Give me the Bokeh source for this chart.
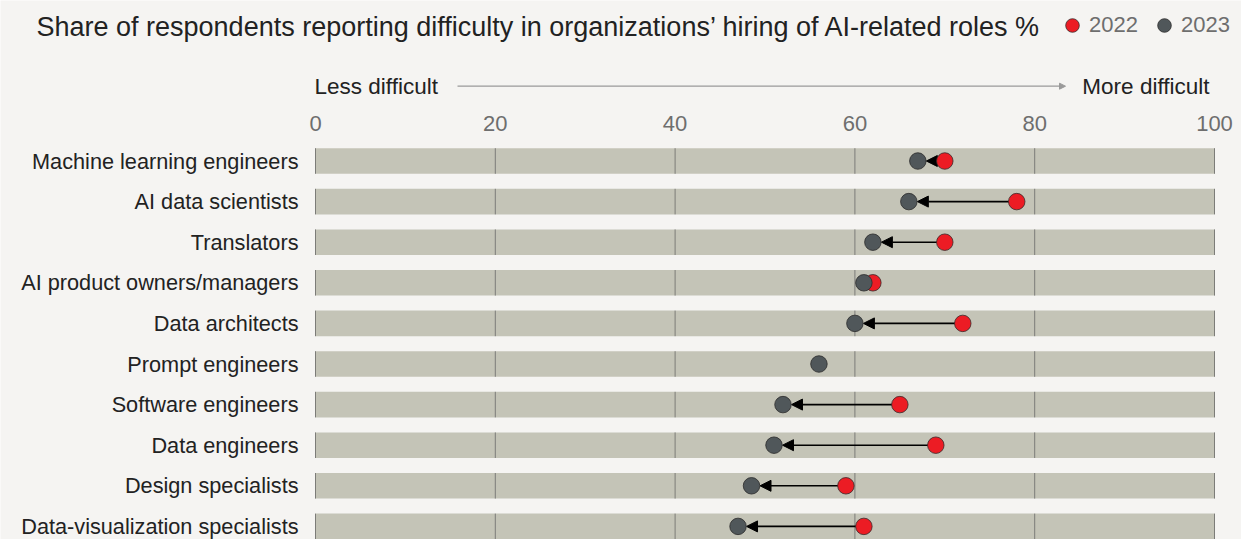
import math
from bokeh.plotting import figure
from bokeh.models import (ColumnDataSource, Range1d, Label, Arrow, NormalHead,
                          Legend, LegendItem)
from bokeh.core.properties import value
from bokeh.embed import file_html
from bokeh.resources import INLINE

categories = [
    "Machine learning engineers",
    "AI data scientists",
    "Translators",
    "AI product owners/managers",
    "Data architects",
    "Prompt engineers",
    "Software engineers",
    "Data engineers",
    "Design specialists",
    "Data-visualization specialists",
]
share_2022 = [70, 78, 70, 62, 72, float("nan"), 65, 69, 59, 61]
share_2023 = [67, 66, 62, 61, 60, 56, 52, 51, 48.5, 47]
x_ticks = [0, 20, 40, 60, 80, 100]
series_names = ["2022", "2023"]
title_text = "Share of respondents reporting difficulty in organizations\u2019 hiring of AI-related roles %"

W, H = 1241, 539
PX_X = 8.99      # pixels per percentage point
PX_Y = 40.6      # pixels per row
X0_PX = 315      # pixel position of 0 %
ROW0_PX = 160.5  # pixel position of first row

BG = "#f5f4f2"
BAR = "#c4c4b7"
RED = "#ec1c24"
GRAY = "#50575a"
FONT = "Liberation Sans"
DOT_R = 8.5 / PX_X


def py(px):
    return (px - ROW0_PX) / PX_Y


def px_x(px):
    return (px - X0_PX) / PX_X


n = len(categories)
rows = list(range(n))

p = figure(width=W, height=H, min_border=0,
           x_range=Range1d(px_x(0), px_x(W)), y_range=Range1d(py(H), py(0)),
           x_axis_location=None, y_axis_location=None,
           output_backend="svg", toolbar_location=None,
           background_fill_color=BG, border_fill_color=BG, outline_line_color=None)
p.grid.visible = False

# bars
p.hbar(y=rows, left=x_ticks[0], right=x_ticks[-1], height=0.63,
       fill_color=BAR, line_color=None, level="image")

# grid lines inside the bars
gx, gy0, gy1 = [], [], []
for r in rows:
    for t in x_ticks:
        gx.append(t)
        gy0.append(r - 0.315)
        gy1.append(r + 0.315)
p.segment(x0=gx, x1=gx, y0=gy0, y1=gy1, line_color="#7c7c78", line_width=1, level="image")

# tick labels
p.text(x=x_ticks, y=[py(123)] * len(x_ticks), text=[str(t) for t in x_ticks],
       text_align="center", text_baseline="middle", text_font=value(FONT),
       text_font_size="22px", text_color="#6e6e6e")

# category labels
p.text(x=[px_x(298)] * n, y=rows, text=categories, text_align="right",
       text_baseline="middle", text_font=value(FONT), text_font_size="21.7px",
       text_color="#222222")

# arrows (only where the two dots do not overlap)
ax0, ax1, ay = [], [], []
for r, a, b in zip(rows, share_2022, share_2023):
    if not (isinstance(a, float) and math.isnan(a)) and a - b > 2 * DOT_R:
        ax0.append(a)
        ax1.append(b + DOT_R)
        ay.append(r)
asrc = ColumnDataSource(dict(x0=ax0, x1=ax1, y=ay))
p.add_layout(Arrow(x_start="x0", y_start="y", x_end="x1", y_end="y", source=asrc,
                   line_color="black", line_width=1.6, level="underlay",
                   end=NormalHead(size=11, fill_color="black", line_color="black", line_width=1)))

src = ColumnDataSource(dict(y=rows, a=share_2022, b=share_2023))
r22 = p.scatter(x="a", y="y", source=src, size=16.5, fill_color=RED,
                line_color="#3a2a2a", line_width=1, line_alpha=0.8)
r23 = p.scatter(x="b", y="y", source=src, size=16.5, fill_color=GRAY,
                line_color="#2a2a2a", line_width=1, line_alpha=0.8)

# direction labels
p.add_layout(Label(x=px_x(314), y=py(86), text="Less difficult", text_align="left",
                   text_baseline="middle", text_font=FONT, text_font_size="22.5px",
                   text_color="#222222"))
p.add_layout(Label(x=px_x(1209), y=py(86), text="More difficult", text_align="right",
                   text_baseline="middle", text_font=FONT, text_font_size="22.5px",
                   text_color="#222222"))
p.add_layout(Arrow(x_start=px_x(457), y_start=py(85.7), x_end=px_x(1065), y_end=py(85.7),
                   line_color="#9a9a9a", line_width=1.3,
                   end=NormalHead(size=6, fill_color="#9a9a9a", line_color="#9a9a9a")))

# title
p.add_layout(Label(x=px_x(36), y=py(26), text=title_text,
                   text_align="left", text_baseline="middle", text_font=FONT,
                   text_font_size="27px", text_color="#222222"))

legend = Legend(items=[LegendItem(label=series_names[0], renderers=[r22]),
                       LegendItem(label=series_names[1], renderers=[r23])],
                orientation="horizontal", location=(1055, H - 44),
                glyph_width=34, glyph_height=38, label_standoff=0, spacing=9,
                padding=0, margin=0, border_line_alpha=0, background_fill_alpha=0,
                label_text_font=FONT, label_text_font_size="22px",
                label_text_color="#6e6e6e")
p.add_layout(legend)

open("out.html", "w").write(file_html(p, INLINE))
